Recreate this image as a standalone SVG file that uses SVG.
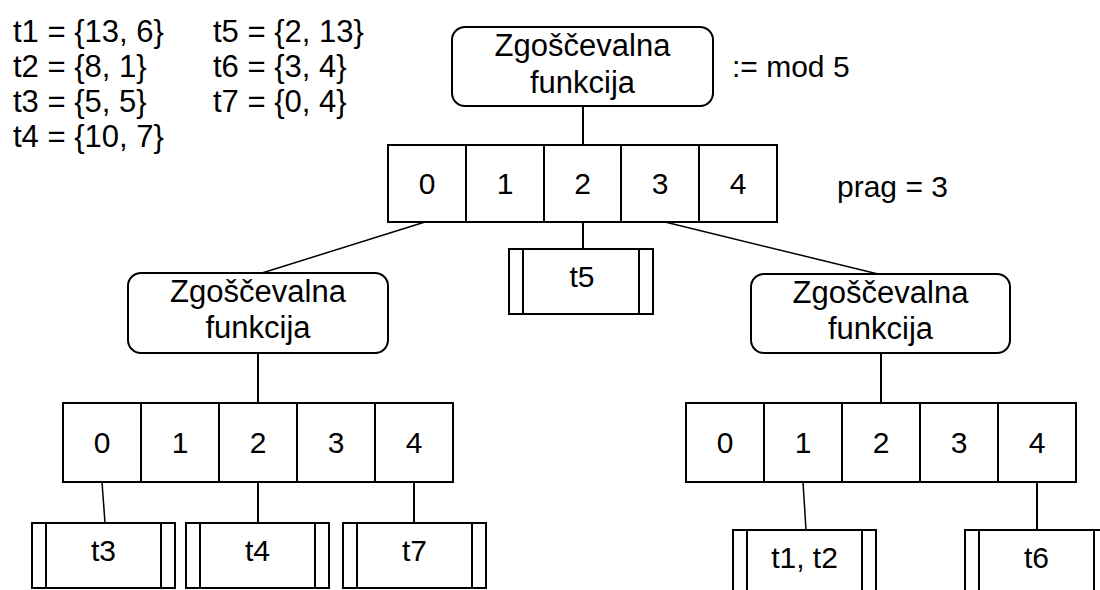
<svg xmlns="http://www.w3.org/2000/svg" width="1100" height="590" viewBox="0 0 1100 590">
<style>
text{font-family:"Liberation Sans",Arial,sans-serif;font-size:30px;fill:#000}
.c{text-anchor:middle}
.fn{font-size:31px}
.lg{font-size:31px}
.box{fill:#fff;stroke:#000;stroke-width:2}
.ln{fill:none;stroke:#000;stroke-width:2}
.thin{fill:none;stroke:#000;stroke-width:1.5}
</style>
<rect width="1100" height="590" fill="#fff"/>
<g id="legend">
<text class="lg" x="13" y="42">t1 = {13, 6}</text>
<text class="lg" x="13" y="77">t2 = {8, 1}</text>
<text class="lg" x="13" y="112">t3 = {5, 5}</text>
<text class="lg" x="13" y="147">t4 = {10, 7}</text>
<text class="lg" x="213" y="42">t5 = {2, 13}</text>
<text class="lg" x="213" y="77">t6 = {3, 4}</text>
<text class="lg" x="213" y="112">t7 = {0, 4}</text>
</g>
<g id="connectors">
<line class="ln" x1="583" y1="106" x2="583" y2="145"/>
<line class="thin" x1="425" y1="222" x2="262" y2="273"/>
<line class="ln" x1="583" y1="222" x2="583" y2="249"/>
<line class="thin" x1="665" y1="222" x2="878" y2="274"/>
<line class="ln" x1="258" y1="353" x2="258" y2="403"/>
<line class="ln" x1="881" y1="353" x2="881" y2="403"/>
<line class="thin" x1="102" y1="482" x2="105" y2="523"/>
<line class="ln" x1="258" y1="482" x2="258" y2="523"/>
<line class="ln" x1="414" y1="482" x2="414" y2="523"/>
<line class="thin" x1="803" y1="482" x2="806" y2="530"/>
<line class="ln" x1="1037" y1="482" x2="1037" y2="530"/>
</g>
<g id="hash-top">
<rect class="box" x="452" y="27" width="261" height="79" rx="13"/>
<text class="c fn" x="582.5" y="56">Zgoščevalna</text>
<text class="c fn" x="582.5" y="93">funkcija</text>
</g>
<text id="mod-label" x="732" y="77">:= mod 5</text>
<text id="prag-label" x="837" y="197">prag = 3</text>
<g id="buckets-top">
<rect class="box" x="388" y="145" width="389" height="77"/>
<path class="ln" d="M466 145V222M544 145V222M621 145V222M699 145V222"/>
<text class="c" x="427" y="194">0</text>
<text class="c" x="505" y="194">1</text>
<text class="c" x="582.5" y="194">2</text>
<text class="c" x="660" y="194">3</text>
<text class="c" x="738" y="194">4</text>
</g>
<g id="t5">
<rect class="box" x="509" y="249" width="144" height="65"/>
<path class="ln" d="M523 249V314M639 249V314"/>
<text class="c" x="582" y="287">t5</text>
</g>
<g id="hash-left">
<rect class="box" x="128" y="273" width="260" height="80" rx="13"/>
<text class="c fn" x="258" y="302">Zgoščevalna</text>
<text class="c fn" x="258" y="338">funkcija</text>
</g>
<g id="hash-right">
<rect class="box" x="751" y="274" width="259" height="79" rx="13"/>
<text class="c fn" x="880.5" y="303">Zgoščevalna</text>
<text class="c fn" x="880.5" y="339">funkcija</text>
</g>
<g id="buckets-left">
<rect class="box" x="63" y="403" width="390" height="79"/>
<path class="ln" d="M141 403V482M219 403V482M297 403V482M375 403V482"/>
<text class="c" x="102" y="453">0</text>
<text class="c" x="180" y="453">1</text>
<text class="c" x="258" y="453">2</text>
<text class="c" x="336" y="453">3</text>
<text class="c" x="414" y="453">4</text>
</g>
<g id="buckets-right">
<rect class="box" x="686" y="403" width="390" height="79"/>
<path class="ln" d="M764 403V482M842 403V482M920 403V482M998 403V482"/>
<text class="c" x="725" y="453">0</text>
<text class="c" x="803" y="453">1</text>
<text class="c" x="881" y="453">2</text>
<text class="c" x="959" y="453">3</text>
<text class="c" x="1037" y="453">4</text>
</g>
<g id="t3">
<rect class="box" x="32" y="523" width="143" height="65"/>
<path class="ln" d="M46 523V588M161 523V588"/>
<text class="c" x="103.5" y="561">t3</text>
</g>
<g id="t4">
<rect class="box" x="186" y="523" width="143" height="65"/>
<path class="ln" d="M200 523V588M315 523V588"/>
<text class="c" x="257.5" y="561">t4</text>
</g>
<g id="t7">
<rect class="box" x="343" y="523" width="143" height="65"/>
<path class="ln" d="M357 523V588M472 523V588"/>
<text class="c" x="414.5" y="561">t7</text>
</g>
<g id="t1t2">
<rect class="box" x="733" y="530" width="143" height="70"/>
<path class="ln" d="M747 530V600M862 530V600"/>
<text class="c" x="804.5" y="568">t1, t2</text>
</g>
<g id="t6">
<rect class="box" x="965" y="530" width="143" height="70"/>
<path class="ln" d="M979 530V600M1094 530V600"/>
<text class="c" x="1036.5" y="568">t6</text>
</g>
</svg>
